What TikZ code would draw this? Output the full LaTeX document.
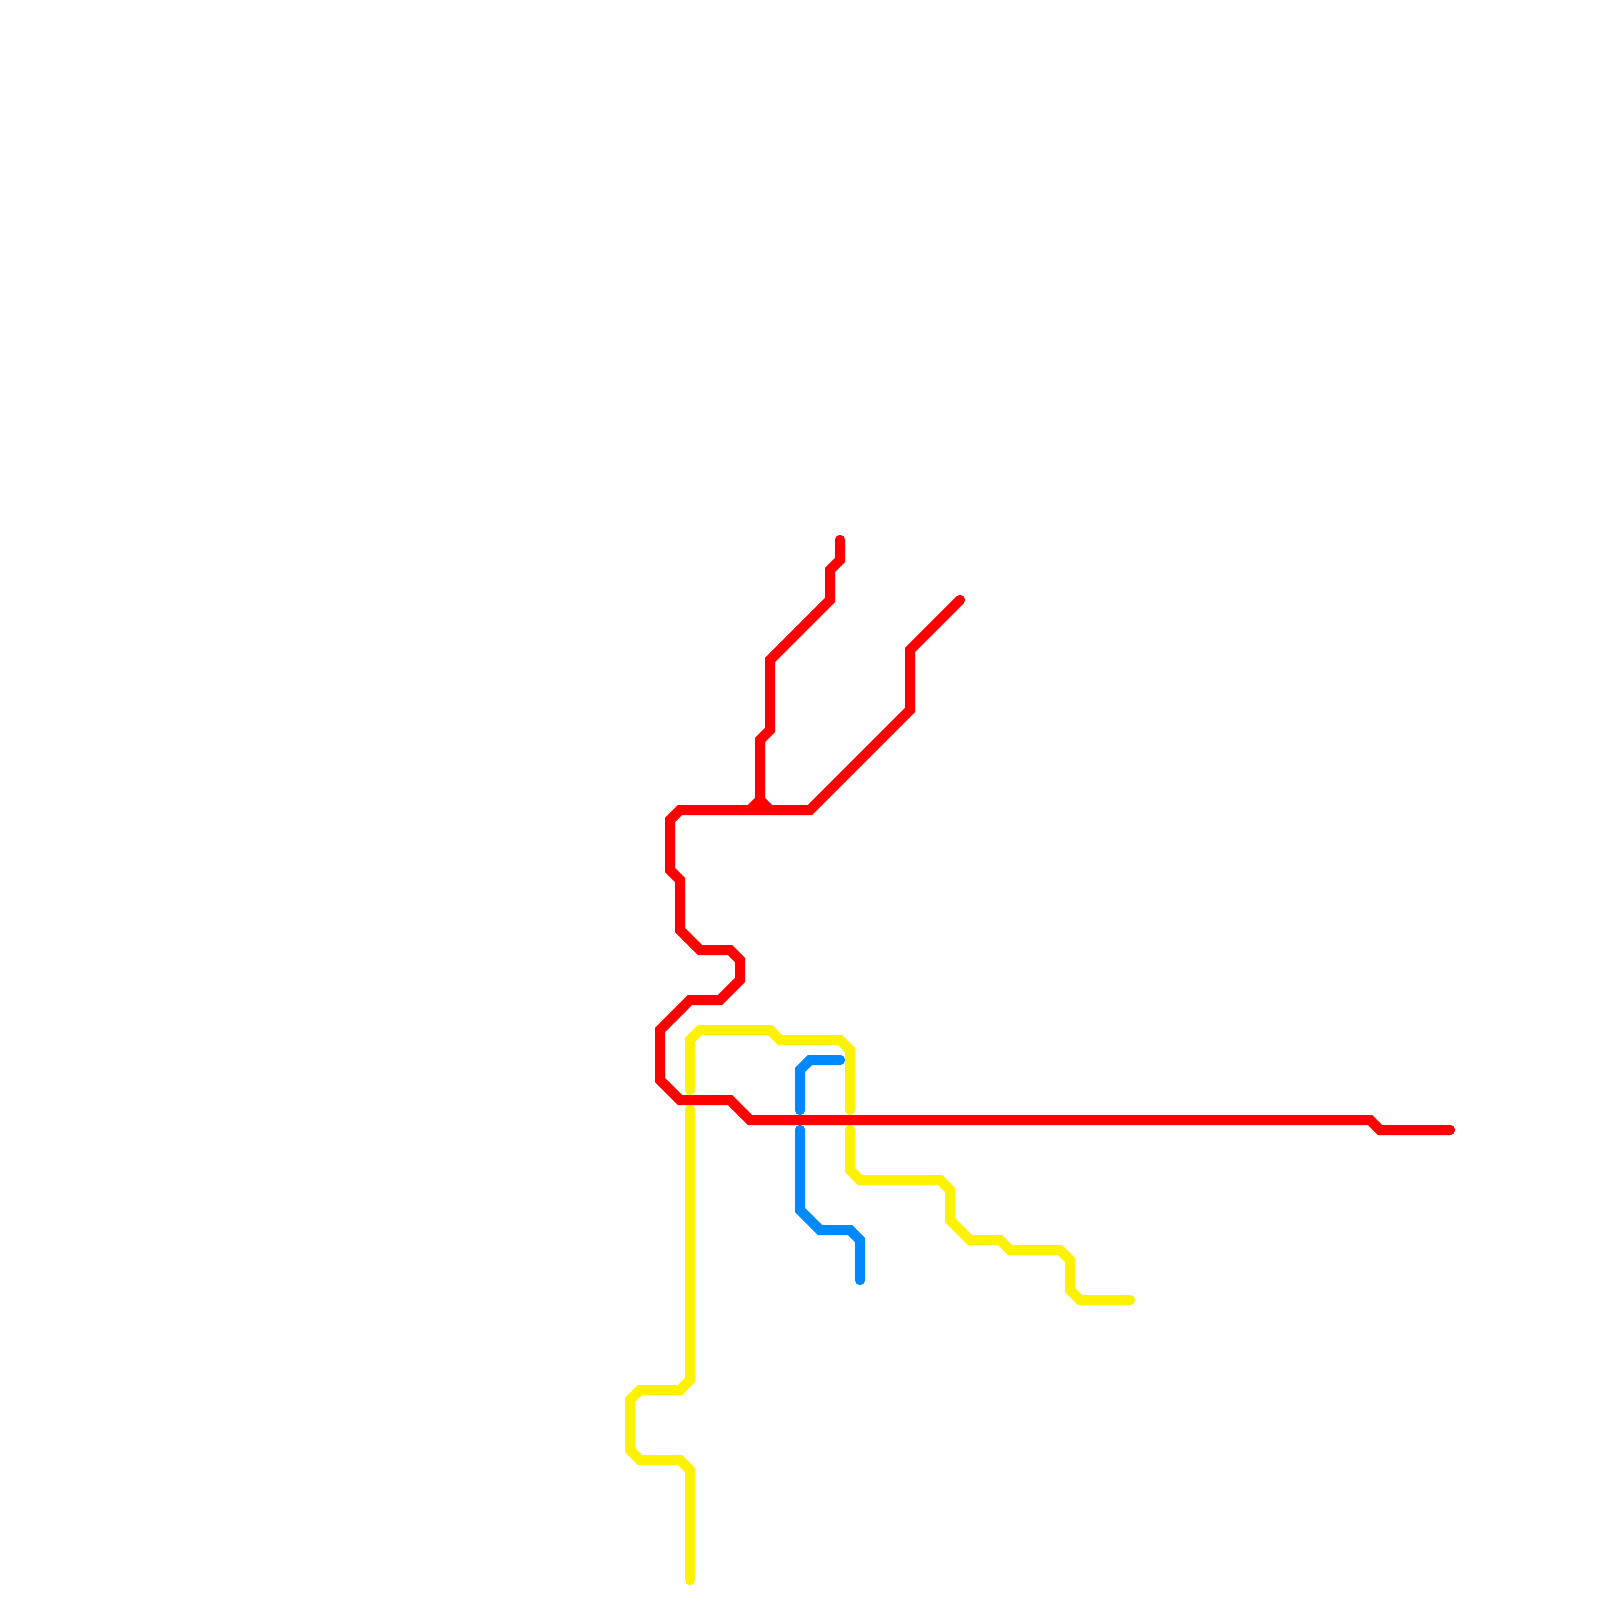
\documentclass[tikz,border=0pt]{standalone}
\definecolor{linered}{RGB}{255,0,0}
\definecolor{lineyellow}{RGB}{255,242,0}
\definecolor{lineblue}{RGB}{0,136,255}
\tikzset{
  metro/.style={line width=1mm,line cap=round,line join=miter,miter limit=10},
  redline/.style={metro,draw=linered},
  yellowline/.style={metro,draw=lineyellow},
  blueline/.style={metro,draw=lineblue}
}
\begin{document}
\begin{tikzpicture}[x=1mm,y=-1mm]
\fill[white] (0,0) rectangle (160,160);
\useasboundingbox (0,0) rectangle (160,160);
% yellow
\draw[yellowline] (69,109)--(69,104)--(70,103)--(77,103)--(78,104)--(84,104)--(85,105)--(85,111);
\draw[yellowline] (85,113)--(85,117)--(86,118)--(94,118)--(95,119)--(95,122)--(97,124)--(100,124)--(101,125)--(106,125)--(107,126)--(107,129)--(108,130)--(113,130);
\draw[yellowline] (69,111)--(69,138)--(68,139)--(64,139)--(63,140)--(63,145)--(64,146)--(68,146)--(69,147)--(69,158);
\foreach \p in {(69,109),(85,111),(85,113),(113,130),(69,111),(69,158)}
  \fill[lineyellow] \p circle (0.5mm);
% blue
\draw[blueline] (84,106)--(81,106)--(80,107)--(80,111);
\draw[blueline] (80,113)--(80,121)--(82,123)--(85,123)--(86,124)--(86,128);
\foreach \p in {(84,106),(80,111),(80,113),(86,128)}
  \fill[lineblue] \p circle (0.5mm);
% red
\draw[redline] (84,54)--(84,56)--(83,57)--(83,60)--(77,66)--(77,73)--(76,74)--(76,80)--(77,81);
\draw[redline] (76,80)--(75,81);
\draw[redline] (96,60)--(91,65)--(91,71)--(81,81)--(68,81)--(67,82)--(67,87)--(68,88)--(68,93)--(70,95)--(73,95)--(74,96)--(74,98)--(72,100)--(69,100)--(66,103)--(66,108)--(68,110)--(73,110)--(75,112)--(137,112)--(138,113)--(145,113);
\foreach \p in {(84,54),(96,60),(145,113)}
  \fill[linered] \p circle (0.5mm);
\end{tikzpicture}
\end{document}
